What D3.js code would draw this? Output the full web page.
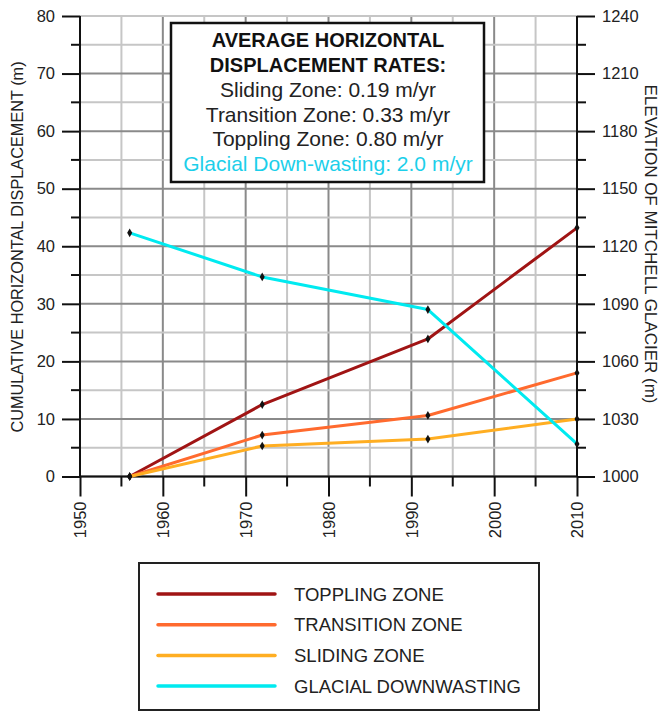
<!DOCTYPE html>
<html>
<head>
<meta charset="utf-8">
<script src="https://cdn.jsdelivr.net/npm/d3@7"></script>
<style>
  body { margin: 0; background: #fff; }
  svg { font-family: "Liberation Sans", Arial, sans-serif; }
</style>
</head>
<body>
<div id="chart"></div>
<script>
// survey years and cumulative horizontal displacement (m)
var years = [1956, 1972, 1992, 2010];
var toppling = [0, 12.5, 23.9, 43.2];
var transition = [0, 7.2, 10.6, 18.0];
var sliding = [0, 5.3, 6.5, 10.0];
// glacier surface elevation (m)
var glacier = [1127, 1104, 1087, 1017];

var seriesNames = ["TOPPLING ZONE", "TRANSITION ZONE", "SLIDING ZONE", "GLACIAL DOWNWASTING"];
var seriesColors = ["#a01414", "#ff6a2e", "#ffae22", "#00eaf0"];

var rateTitle = ["AVERAGE HORIZONTAL", "DISPLACEMENT RATES:"];
var rateLines = ["Sliding Zone: 0.19 m/yr", "Transition Zone: 0.33 m/yr",
                 "Toppling Zone: 0.80 m/yr", "Glacial Down-wasting: 2.0 m/yr"];

var xTicks = [1950, 1960, 1970, 1980, 1990, 2000, 2010];
var leftTicks = [0, 10, 20, 30, 40, 50, 60, 70, 80];
var rightTicks = [1000, 1030, 1060, 1090, 1120, 1150, 1180, 1210, 1240];

var width = 662, height = 712;

var svg = d3.select("#chart")
    .append("svg")
    .attr("width", width)
    .attr("height", height);

var x = d3.scaleLinear().domain([1950, 2010]).range([80, 577]);
var yL = d3.scaleLinear().domain([0, 80]).range([476.5, 16]);
var yR = d3.scaleLinear().domain([1000, 1240]).range([476.5, 16]);

// grid - light lines every 5, darker every 10
var grid = svg.append("g");
d3.range(1950, 2011, 5).forEach(function(v) {
    grid.append("line")
        .attr("x1", x(v)).attr("x2", x(v))
        .attr("y1", yL(0)).attr("y2", yL(80))
        .style("stroke", v % 10 == 0 ? "#8a8a8a" : "#c6c6c6")
        .style("stroke-width", 2);
});
d3.range(0, 81, 5).forEach(function(v) {
    grid.append("line")
        .attr("x1", x(1950)).attr("x2", x(2010))
        .attr("y1", yL(v)).attr("y2", yL(v))
        .style("stroke", (v % 10 == 0 && v != 80) ? "#8a8a8a" : "#c6c6c6")
        .style("stroke-width", 2);
});

// axes
var axisLeft = d3.axisLeft(yL).tickValues(leftTicks).tickSize(18).tickPadding(7);
var axisRight = d3.axisRight(yR).tickValues(rightTicks).tickSize(18).tickPadding(7)
    .tickFormat(d3.format("d"));
var axisBottom = d3.axisBottom(x).tickValues(xTicks).tickSize(20).tickFormat(d3.format("d"));

var gl = svg.append("g").attr("transform", "translate(" + x(1950) + ",0)").call(axisLeft);
var gr = svg.append("g").attr("transform", "translate(" + x(2010) + ",0)").call(axisRight);
var gb = svg.append("g").attr("transform", "translate(0," + yL(0) + ")").call(axisBottom);

[gl, gr, gb].forEach(function(g) {
    g.select(".domain").remove();
    g.selectAll(".tick line").style("stroke", "#111").style("stroke-width", 2);
    g.selectAll("text").style("font-size", "16.5px").style("fill", "#222")
        .style("font-family", "'Liberation Sans', Arial, sans-serif");
});

gb.selectAll("text")
    .attr("transform", "rotate(-90)")
    .attr("x", -25)
    .attr("y", 0)
    .attr("dy", "0.36em")
    .style("text-anchor", "end");

// minor ticks
d3.range(5, 80, 10).forEach(function(v) {
    svg.append("line").attr("x1", x(1950) - 9).attr("x2", x(1950))
        .attr("y1", yL(v)).attr("y2", yL(v)).style("stroke", "#111").style("stroke-width", 2);
});
d3.range(1015, 1240, 30).forEach(function(v) {
    svg.append("line").attr("x1", x(2010)).attr("x2", x(2010) + 9)
        .attr("y1", yR(v)).attr("y2", yR(v)).style("stroke", "#111").style("stroke-width", 2);
});
d3.range(1955, 2010, 10).forEach(function(v) {
    svg.append("line").attr("x1", x(v)).attr("x2", x(v))
        .attr("y1", yL(0)).attr("y2", yL(0) + 10).style("stroke", "#111").style("stroke-width", 2);
});

// axis lines
svg.append("line").attr("x1", x(1950)).attr("x2", x(1950)).attr("y1", yL(0)).attr("y2", yL(80))
    .style("stroke", "#111").style("stroke-width", 2);
svg.append("line").attr("x1", x(2010)).attr("x2", x(2010)).attr("y1", yL(0)).attr("y2", yL(80))
    .style("stroke", "#111").style("stroke-width", 2);
svg.append("line").attr("x1", x(1950)).attr("x2", x(2010)).attr("y1", yL(0)).attr("y2", yL(0))
    .style("stroke", "#111").style("stroke-width", 2);

// axis titles
svg.append("text")
    .attr("transform", "translate(23,247) rotate(-90)")
    .style("text-anchor", "middle")
    .style("font-size", "16.3px")
    .style("fill", "#222")
    .text("CUMULATIVE HORIZONTAL DISPLACEMENT (m)");

svg.append("text")
    .attr("transform", "translate(645,244) rotate(90)")
    .style("text-anchor", "middle")
    .style("font-size", "17px")
    .style("fill", "#222")
    .text("ELEVATION OF MITCHELL GLACIER (m)");

// data lines
var series = [toppling, transition, sliding, glacier];
var scales = [yL, yL, yL, yR];

series.forEach(function(vals, i) {
    var ys = scales[i];
    var pts = years.map(function(yr, j) { return [yr, vals[j]]; });
    var line = d3.line()
        .x(function(d) { return x(d[0]); })
        .y(function(d) { return ys(d[1]); });
    svg.append("path")
        .datum(pts)
        .attr("d", line)
        .style("fill", "none")
        .style("stroke", seriesColors[i])
        .style("stroke-width", 3)
        .style("stroke-linejoin", "round");
});

series.forEach(function(vals, i) {
    var ys = scales[i];
    svg.selectAll(".dot" + i)
        .data(years)
        .enter()
        .append("path")
        .attr("class", "dot" + i)
        .attr("d", d3.symbol().type(d3.symbolDiamond).size(22))
        .attr("transform", function(d, j) { return "translate(" + x(d) + "," + ys(vals[j]) + ")"; })
        .style("fill", "#111");
});

// rates box
svg.append("rect")
    .attr("x", 171).attr("y", 23)
    .attr("width", 313).attr("height", 159)
    .style("fill", "white")
    .style("stroke", "#111")
    .style("stroke-width", 2.5);

rateTitle.forEach(function(t, i) {
    svg.append("text")
        .attr("x", 328).attr("y", 47 + i * 25)
        .style("text-anchor", "middle")
        .style("font-size", "20px")
        .style("font-weight", "bold")
        .style("fill", "#111")
        .text(t);
});
rateLines.forEach(function(t, i) {
    svg.append("text")
        .attr("x", 328).attr("y", 97 + i * 24.5)
        .style("text-anchor", "middle")
        .style("font-size", "21px")
        .style("fill", i == 3 ? "#1ccfea" : "#222")
        .text(t);
});

// legend
svg.append("rect")
    .attr("x", 139).attr("y", 563)
    .attr("width", 400).attr("height", 147)
    .style("fill", "white")
    .style("stroke", "#222")
    .style("stroke-width", 2);

seriesNames.forEach(function(name, i) {
    var ly = 594 + i * 30.7;
    svg.append("line")
        .attr("x1", 158).attr("x2", 275)
        .attr("y1", ly).attr("y2", ly)
        .style("stroke", seriesColors[i])
        .style("stroke-width", 3.5)
        .style("stroke-linecap", "round");
    svg.append("text")
        .attr("x", 294).attr("y", ly)
        .attr("dy", "0.36em")
        .style("font-size", "18.5px")
        .style("fill", "#222")
        .text(name);
});
</script>
</body>
</html>
